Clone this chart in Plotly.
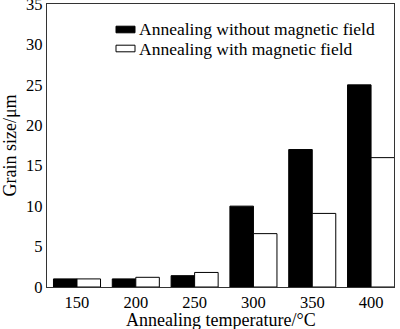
import plotly.graph_objects as go

temperatures = [150, 200, 250, 300, 350, 400]
without_field = [1.0, 1.0, 1.4, 10.0, 17.0, 25.0]
with_field = [1.0, 1.2, 1.8, 6.6, 9.1, 16.0]
series_names = ["Annealing without magnetic field", "Annealing with magnetic field"]
series_fills = ["black", "white"]
x_title = "Annealing temperature/°C"
y_title = "Grain size/μm"

serif = "Liberation Serif"

W, H = 400, 329
M = dict(l=47, r=6, t=4, b=42)
plot_w = W - M["l"] - M["r"]
plot_h = H - M["t"] - M["b"]


def px_to_paper(px, py):
    """Convert a pixel position on the page to paper coordinates."""
    return (px - M["l"]) / plot_w, (H - M["b"] - py) / plot_h


fig = go.Figure()
for name, fill, values in zip(series_names, series_fills, [without_field, with_field]):
    fig.add_trace(go.Bar(
        x=temperatures, y=values, name=name, showlegend=False,
        marker=dict(color=fill, line=dict(color="black", width=1)),
    ))

# Key in the upper-left of the plot: a flat swatch followed by the series name
for i, (name, fill) in enumerate(zip(series_names, series_fills)):
    row_y = 29.5 + 19 * i
    x0, y0 = px_to_paper(116, row_y - 3.3)
    x1, y1 = px_to_paper(135, row_y + 3.3)
    fig.add_shape(type="rect", xref="paper", yref="paper",
                  x0=x0, x1=x1, y0=y1, y1=y0,
                  fillcolor=fill, line=dict(color="black", width=1))
    tx, ty = px_to_paper(137, row_y)
    fig.add_annotation(xref="paper", yref="paper", x=tx, y=ty,
                       xanchor="left", yanchor="middle", showarrow=False,
                       text=name, font=dict(family=serif, size=17.5, color="black"))

# x-axis title placed just under the tick labels
tx, ty = px_to_paper(220, 320)
fig.add_annotation(xref="paper", yref="paper", x=0.5, y=ty,
                   xanchor="center", yanchor="middle", showarrow=False,
                   text=x_title, font=dict(family=serif, size=18, color="black"))

axis_style = dict(showline=True, linecolor="#333333", linewidth=1.2, mirror=True,
                  showgrid=False, zeroline=False, ticks="", automargin=False,
                  ticklabeloverflow="allow",
                  tickfont=dict(family=serif, size=16.5, color="black"))

fig.update_layout(
    width=W, height=H,
    margin=M,
    paper_bgcolor="white", plot_bgcolor="white",
    barmode="group", bargap=0.2, bargroupgap=0,
    font=dict(family=serif, size=17, color="black"),
    showlegend=False,
    xaxis=dict(axis_style, range=[124.5, 419.5], tickvals=temperatures),
    yaxis=dict(axis_style, range=[0, 35], dtick=5,
               title=dict(text=y_title, standoff=5,
                          font=dict(family=serif, size=18, color="black"))),
)

fig.write_html("out.html")
